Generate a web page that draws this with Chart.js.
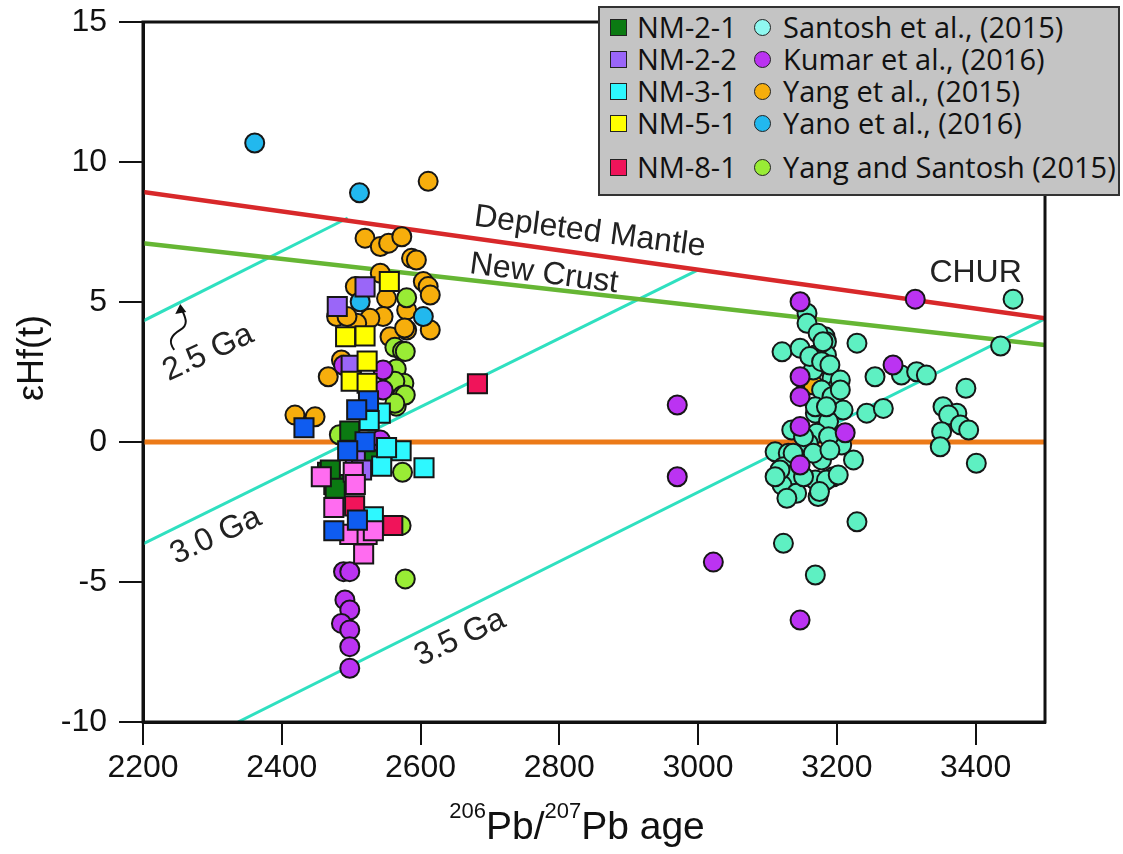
<!DOCTYPE html>
<html>
<head>
<meta charset="utf-8">
<script src="https://cdn.jsdelivr.net/npm/chart.js@4.4.1/dist/chart.umd.min.js"></script>
<style>
html, body { margin: 0; padding: 0; background: #fff; }
#wrap { position: relative; width: 1123px; height: 854px; }
#legend { position: absolute; left: 598px; top: 6px; width: 522px; height: 190px; box-sizing: border-box;
          background: #c4c4c4; border: 2px solid #333; font-family: "Open Sans", Lato, sans-serif;
          font-size: 29px; color: #111; }
.item { position: absolute; white-space: nowrap; line-height: 30px; height: 30px; }
.sw { position: absolute; top: 7px; width: 17px; height: 17px; box-sizing: border-box; border: 1.5px solid #222; }
</style>
</head>
<body>
<div id="wrap">
  <canvas id="hfChart" width="1123" height="854"></canvas>
  <div id="legend"></div>
</div>
<script>
// axis ticks
const xTicks = [2200, 2400, 2600, 2800, 3000, 3200, 3400];
const yTicks = [-10, -5, 0, 5, 10, 15];

// reference curves, [age, eHf] end points
const depletedMantle = [[2200, 8.93], [3500, 4.42]];
const newCrust = [[2200, 7.1], [3500, 3.46]];
const chur = [[2200, 0], [3500, 0]];
const evol25 = [[2200, 4.32], [2495, 8.0]];
const evol30 = [[2200, -3.64], [3000, 6.15]];
const evol35 = [[2337, -10], [3500, 4.4]];

// this study, [206Pb/207Pb age, eHf(t)]
const nm21 = [[2498, 0.39], [2466, -1.08], [2475, -1.52], [2532, -0.76], [2470, -1.0], [2477, -1.65], [2527, -0.64]];
const nm22 = [[2520, 5.54], [2480, 4.84], [2500, 2.74], [2506, -0.44], [2515, -1.0]];
const nm31 = [[2542, 1.03], [2572, -0.31], [2544, -0.86], [2605, -0.92], [2526, 0.77], [2520, -2.79], [2551, -0.2], [2532, -2.67]];
const nm51 = [[2555, 5.73], [2492, 3.76], [2520, 3.79], [2523, 2.89], [2500, 2.17], [2523, 2.10]];
const nm81 = [[2682, 2.08], [2560, -2.98], [2505, -2.28]];
const nmBlue = [[2432, 0.51], [2525, 1.47], [2508, 1.15], [2520, 0.01], [2495, -0.31], [2475, -3.17], [2509, -2.79]];
const nmPink = [[2457, -1.24], [2503, -1.08], [2506, -1.52], [2475, -2.34], [2498, -3.30], [2523, -3.30], [2518, -4.0], [2532, -3.17]];

// literature data
const santosh = [[3157, 4.60], [3157, 4.24], [3183, 3.76], [3185, 3.58], [3121, 3.22], [3147, 3.35], [3229, 3.53],
  [3169, 3.11], [3185, 3.11], [3166, 2.57], [3193, 2.28], [3202, 1.98], [3178, 1.86], [3193, 1.62], [3255, 2.33],
  [3293, 2.39], [3315, 2.51], [3329, 2.39], [3209, 1.14], [3243, 1.03], [3267, 1.20], [3169, 1.03], [3188, 0.73],
  [3135, 0.43], [3171, 0.31], [3159, -0.05], [3207, -0.11], [3111, -0.35], [3130, -0.40], [3178, -0.64], [3224, -0.64],
  [3123, -0.88], [3118, -1.36], [3137, -1.18], [3169, -1.36], [3195, -1.24], [3121, -1.54], [3142, -1.83], [3128, -2.01],
  [3173, -1.95], [3229, -2.85], [3123, -3.62], [3169, -4.75], [3161, 3.05], [3178, 2.87], [3190, 2.75], [3205, 2.21],
  [3205, 1.86], [3169, 1.26], [3185, 1.26], [3152, 0.19], [3188, 0.19], [3137, -0.40], [3166, -0.40], [3190, -0.29],
  [3152, -1.24], [3185, -1.36], [3202, -1.18], [3175, -1.77], [3118, -1.0], [3111, -1.24], [3173, 3.88], [3180, 3.58],
  [3454, 5.10], [3436, 3.43], [3386, 1.92], [3353, 1.26], [3373, 1.03], [3361, 0.96], [3378, 0.61], [3390, 0.43],
  [3351, 0.37], [3349, -0.17], [3401, -0.76]];
const kumar = [[2489, -4.63], [2498, -4.63], [2491, -5.64], [2498, -6.0], [2486, -6.48], [2498, -6.71], [2498, -7.31],
  [2498, -8.08], [2546, 2.57], [2546, 1.86], [2542, 0.07], [2542, -0.39], [2489, 2.74], [2970, 1.32], [2970, -1.24],
  [3022, -4.29], [3147, 5.01], [3313, 5.10], [3281, 2.75], [3147, 2.33], [3147, 1.62], [3147, 0.55], [3212, 0.33],
  [3147, -0.82], [3147, -6.36]];
const yang = [[2611, 9.31], [2520, 7.28], [2542, 6.98], [2554, 7.10], [2573, 7.33], [2587, 6.56], [2594, 6.50],
  [2542, 6.03], [2604, 5.73], [2611, 5.55], [2614, 5.25], [2506, 5.55], [2551, 5.13], [2546, 4.48], [2527, 4.42],
  [2508, 4.24], [2479, 4.48], [2580, 4.0], [2614, 4.0], [2580, 4.71], [2556, 3.76], [2486, 2.93], [2467, 2.33],
  [2419, 0.96], [2448, 0.90], [2577, 4.07], [2494, 4.48], [3166, 2.04]];
const yano = [[2361, 10.68], [2512, 8.90], [2513, 5.01], [2604, 4.48]];
const yangSantosh = [[2580, 5.15], [2563, 3.38], [2574, 3.25], [2565, 2.61], [2576, 2.10], [2563, 2.17], [2574, 1.66],
  [2565, 1.28], [2574, -1.08], [2578, -4.89], [2572, -2.98], [2483, 0.26], [2578, 3.23], [2578, 1.68], [2563, 1.38]];

function pts(arr) {
  return arr.map(p => ({ x: p[0], y: p[1] }));
}

function squares(label, data, color) {
  return { label: label, data: pts(data), pointStyle: 'rect', pointRadius: 13.5, pointHoverRadius: 13.5,
           backgroundColor: color, borderColor: '#161616', borderWidth: 2 };
}

function circles(label, data, color) {
  return { label: label, data: pts(data), pointStyle: 'circle', pointRadius: 9.5, pointHoverRadius: 9.5,
           backgroundColor: color, borderColor: '#161616', borderWidth: 2 };
}

function curve(label, data, color, width) {
  return { label: label, data: pts(data), showLine: true, borderColor: color, borderWidth: width,
           pointRadius: 0, pointHoverRadius: 0, fill: false };
}

// first dataset is drawn on top
const datasets = [
  squares('blue', nmBlue, '#0f5cf0'),
  squares('NM-8-1', nm81, '#f0145a'),
  squares('pink', nmPink, '#ff6cf0'),
  squares('NM-3-1', nm31, '#2ef8ff'),
  squares('NM-5-1', nm51, '#ffff00'),
  squares('NM-2-2', nm22, '#9a66f8'),
  squares('NM-2-1', nm21, '#0b7a12'),
  circles('Kumar et al., (2016)', kumar, '#bb33f2'),
  circles('Yano et al., (2016)', yano, '#22b8ee'),
  circles('Yang and Santosh (2015)', yangSantosh, '#99ec35'),
  circles('Santosh et al., (2015)', santosh, '#5ef0c2'),
  circles('Yang et al., (2015)', yang, '#f7ae0c'),
  curve('Depleted Mantle', depletedMantle, '#d8282a', 4.5),
  curve('New Crust', newCrust, '#66b634', 4.5),
  curve('CHUR', chur, '#ec7a18', 5),
  curve('2.5 Ga', evol25, '#2fe0c0', 3),
  curve('3.0 Ga', evol30, '#2fe0c0', 3),
  curve('3.5 Ga', evol35, '#2fe0c0', 3)
];

// curve labels: data anchor, rotation (deg)
const curveLabels = [
  { text: 'Depleted Mantle', x: 2844, y: 7.5, rot: 7.5 },
  { text: 'New Crust', x: 2778, y: 6.0, rot: 7.5 },
  { text: 'CHUR', x: 3400, y: 6.03, rot: 0 },
  { text: '2.5 Ga', x: 2294, y: 3.18, rot: -25 },
  { text: '3.0 Ga', x: 2305, y: -3.36, rot: -25 },
  { text: '3.5 Ga', x: 2657, y: -7.0, rot: -25 }
];

const FONT = '"Liberation Sans", Arial, sans-serif';

const labelPlugin = {
  id: 'labelPlugin',
  afterDatasetsDraw(chart) {
    const ctx = chart.ctx;
    const xs = chart.scales.x, ys = chart.scales.y;
    const a = chart.chartArea;
    ctx.save();
    // frame
    ctx.strokeStyle = '#111';
    ctx.lineWidth = 3;
    ctx.strokeRect(a.left, a.top, a.right - a.left, a.bottom - a.top);
    // curve labels
    ctx.fillStyle = '#222';
    ctx.font = '32px ' + FONT;
    ctx.textAlign = 'center';
    ctx.textBaseline = 'middle';
    curveLabels.forEach(l => {
      ctx.save();
      ctx.translate(xs.getPixelForValue(l.x), ys.getPixelForValue(l.y));
      ctx.rotate(l.rot * Math.PI / 180);
      ctx.fillText(l.text, 0, 0);
      ctx.restore();
    });
    // little curly arrow pointing at the 2.5 Ga line
    const ax = xs.getPixelForValue(2245), ay = ys.getPixelForValue(3.29);
    ctx.strokeStyle = '#111';
    ctx.lineWidth = 2;
    ctx.beginPath();
    ctx.moveTo(ax, ay);
    ctx.bezierCurveTo(ax - 6, ay - 8, ax - 4, ay - 14, ax + 6, ay - 20);
    ctx.bezierCurveTo(ax + 16, ay - 26, ax + 10, ay - 34, ax + 7, ay - 42);
    ctx.stroke();
    ctx.beginPath();
    ctx.moveTo(ax + 6, ay - 46);
    ctx.lineTo(ax + 1, ay - 36);
    ctx.lineTo(ax + 12, ay - 38);
    ctx.closePath();
    ctx.fillStyle = '#111';
    ctx.fill();

    // x axis title with superscript mass numbers
    const parts = [['206', 22, -21], ['Pb/', 39, 0], ['207', 22, -21], ['Pb age', 39, 0]];
    let total = 0;
    parts.forEach(p => { ctx.font = p[1] + 'px ' + FONT; total += ctx.measureText(p[0]).width; });
    let px = (a.left + a.right) / 2 - 17 - total / 2;
    const base = chart.height - 15;
    ctx.fillStyle = '#111';
    ctx.textAlign = 'left';
    ctx.textBaseline = 'alphabetic';
    parts.forEach(p => {
      ctx.font = p[1] + 'px ' + FONT;
      ctx.fillText(p[0], px, base + p[2]);
      px += ctx.measureText(p[0]).width;
    });

    // y axis title, sits a little above the middle of the axis
    ctx.font = '36px ' + FONT;
    ctx.textAlign = 'center';
    ctx.textBaseline = 'middle';
    ctx.translate(33, ys.getPixelForValue(3.0));
    ctx.rotate(-Math.PI / 2);
    ctx.fillText('εHf(t)', 0, 0);
    ctx.restore();
  }
};

const tickFont = { family: FONT, size: 32 };

new Chart(document.getElementById('hfChart').getContext('2d'), {
  type: 'scatter',
  data: { datasets: datasets },
  options: {
    responsive: false,
    animation: false,
    layout: { padding: { top: 22, right: 78, left: 0, bottom: 0 } },
    plugins: { legend: { display: false }, tooltip: { enabled: false } },
    scales: {
      x: {
        type: 'linear', min: 2200, max: 3500,
        afterBuildTicks: s => { s.ticks = xTicks.map(v => ({ value: v })); },
        afterFit: s => { s.height = 132; s.paddingLeft = 0; s.paddingRight = 0; },
        ticks: { color: '#111', font: tickFont, padding: 4, maxRotation: 0, callback: v => String(v) },
        grid: { drawOnChartArea: false, drawTicks: true, tickLength: 23, color: '#111', lineWidth: 2 },
        border: { color: '#111', width: 3 }
      },
      y: {
        type: 'linear', min: -10, max: 15,
        afterBuildTicks: s => { s.ticks = yTicks.map(v => ({ value: v })); },
        afterFit: s => { s.width = 143; s.paddingTop = 0; s.paddingBottom = 0; },
        ticks: { color: '#111', font: tickFont, padding: 12 },
        grid: { drawOnChartArea: false, drawTicks: true, tickLength: 24, color: '#111', lineWidth: 2 },
        border: { color: '#111', width: 3 }
      }
    }
  },
  plugins: [labelPlugin]
});

// two-column legend box
const legendSquares = [['NM-2-1', '#0b7a12'], ['NM-2-2', '#9a66f8'], ['NM-3-1', '#2ef8ff'], ['NM-5-1', '#ffff00'], ['NM-8-1', '#f0145a']];
const legendCircles = [['Santosh et al., (2015)', '#8ff8f0'], ['Kumar et al., (2016)', '#bb33f2'], ['Yang et al., (2015)', '#f7ae0c'],
  ['Yano et al., (2016)', '#22b8ee'], ['Yang and Santosh (2015)', '#99ec35']];
const rowTops = [4, 36, 68, 100, 144];
const box = document.getElementById('legend');
legendSquares.forEach((s, i) => {
  box.insertAdjacentHTML('beforeend',
    '<div class="item" style="left:10px;top:' + rowTops[i] + 'px"><span class="sw" style="left:0;background:' + s[1] + '"></span>' +
    '<span style="margin-left:27px">' + s[0] + '</span></div>' +
    '<div class="item" style="left:154px;top:' + rowTops[i] + 'px"><span class="sw" style="left:0;border-radius:50%;background:' + legendCircles[i][1] + '"></span>' +
    '<span style="margin-left:29px">' + legendCircles[i][0] + '</span></div>');
});
</script>
</body>
</html>
